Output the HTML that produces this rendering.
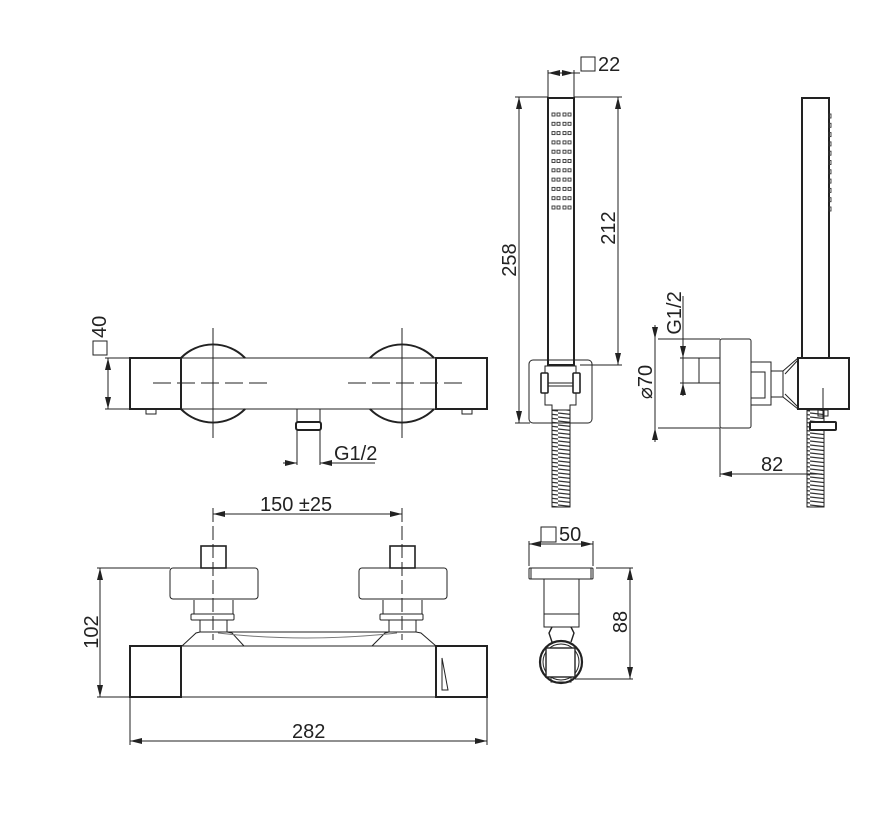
<!DOCTYPE html>
<html><head><meta charset="utf-8"><style>
html,body{margin:0;padding:0;background:#fff;}
svg{display:block;}
text{font-family:"Liberation Sans",sans-serif;fill:#222;}
</style></head><body>
<svg width="885" height="818" viewBox="0 0 885 818" xmlns="http://www.w3.org/2000/svg">
<defs>
<marker id="a" viewBox="0 0 12 6" refX="12" refY="3" markerWidth="12" markerHeight="6" markerUnits="userSpaceOnUse" orient="auto-start-reverse"><path d="M0,0 L12,3 L0,6 Z" fill="#222"/></marker>
<pattern id="hose" width="18" height="4" patternUnits="userSpaceOnUse"><rect width="18" height="4" fill="#fff"/><line x1="0" y1="1" x2="18" y2="3" stroke="#333" stroke-width="1.2"/></pattern>
</defs>
<g fill="none" stroke="#222" stroke-width="1">
<!-- VIEW 1 top -->
<path d="M181,358 A45,45 0 0 1 245,358 M181,409 A45,45 0 0 0 245,409" stroke-width="2.2"/>
<path d="M370,358 A45,45 0 0 1 434,358 M370,409 A45,45 0 0 0 434,409" stroke-width="2.2"/>
<path d="M183,358 A43,43 0 0 1 243,358 M183,409 A43,43 0 0 0 243,409" stroke="#fff" stroke-width="0.8"/>
<path d="M372,358 A43,43 0 0 1 432,358 M372,409 A43,43 0 0 0 432,409" stroke="#fff" stroke-width="0.8"/>
<rect x="130" y="358" width="357" height="51"/>
<rect x="130" y="358" width="51" height="51" stroke-width="2"/>
<rect x="436" y="358" width="51" height="51" stroke-width="2"/>
<line x1="213" y1="328" x2="213" y2="438"/><line x1="402" y1="328" x2="402" y2="438"/>
<path d="M153,383 H268 M348,383 H466" stroke-dasharray="18,6"/>
<rect x="146" y="409" width="10" height="5"/><rect x="462" y="409" width="10" height="5"/>
<path d="M297,409 V422 M320,409 V422"/>
<rect x="296" y="422" width="25" height="8" rx="2" stroke-width="2"/>
<path d="M297,430 V465 M320,430 V465"/>
<line x1="283" y1="463" x2="297" y2="463" marker-end="url(#a)"/>
<line x1="334" y1="463" x2="320" y2="463" marker-end="url(#a)"/>
<line x1="320" y1="463" x2="375" y2="463"/>
<path d="M105,358 H130 M105,409 H130"/>
<line x1="108" y1="358" x2="108" y2="409" marker-start="url(#a)" marker-end="url(#a)"/>
<rect x="93" y="341" width="14" height="14"/>

<!-- VIEW 2 front -->
<rect x="130" y="646" width="357" height="51"/>
<rect x="130" y="646" width="51" height="51" stroke-width="2"/>
<rect x="436" y="646" width="51" height="51" stroke-width="2"/>
<path d="M442,658 L448,690 L442,690 Z"/>
<g>
<rect x="201" y="546" width="25" height="22" stroke-width="1.6"/>
<rect x="170" y="568" width="88" height="31" rx="3"/>
<path d="M194,600 V614 M233,600 V614"/>
<rect x="191" y="614" width="43" height="6" rx="1"/>
<rect x="200" y="620" width="27" height="12"/>
<path d="M200,632 L196,633 L182,646 M227,632 L232,633 L244,646" />
</g>
<g transform="translate(189,0)">
<rect x="201" y="546" width="25" height="22" stroke-width="1.6"/>
<rect x="170" y="568" width="88" height="31" rx="3"/>
<path d="M194,600 V614 M233,600 V614"/>
<rect x="191" y="614" width="43" height="6" rx="1"/>
<rect x="200" y="620" width="27" height="12"/>
<path d="M200,632 L196,633 L183,646 M227,632 L232,633 L247,646"/>
</g>
<path d="M227,632 H390"/>
<path d="M218,633 Q305,643 397,633" stroke="#777"/>
<path d="M213,508 V640 M402,508 V640" stroke-dasharray="14,4"/>
<line x1="213" y1="514" x2="402" y2="514" marker-start="url(#a)" marker-end="url(#a)"/>
<path d="M97,568 H170 M97,697 H130"/>
<line x1="100" y1="568" x2="100" y2="697" marker-start="url(#a)" marker-end="url(#a)"/>
<path d="M130,697 V745 M487,697 V745"/>
<line x1="130" y1="741" x2="487" y2="741" marker-start="url(#a)" marker-end="url(#a)"/>

<!-- VIEW 3 hand shower front -->
<rect x="552" y="405" width="18" height="102" fill="url(#hose)"/>
<rect x="529" y="360" width="63" height="63" rx="4"/>
<rect x="548" y="98" width="26" height="267" stroke-width="2"/>
<path d="M545,366 H576 V405 H570 V410 H552 V405 H545 Z" fill="#fff"/>
<rect x="541" y="373" width="7" height="20" rx="1" fill="#fff" stroke-width="1.6"/>
<rect x="573" y="373" width="7" height="20" rx="1" fill="#fff" stroke-width="1.6"/>
<path d="M548,383 H573 M548,386 H573"/>
<line x1="548" y1="365" x2="574" y2="365" stroke-width="2"/>
<path d="M548,70 V97 M574,70 V97"/>
<line x1="548" y1="73" x2="574" y2="73" marker-start="url(#a)" marker-end="url(#a)"/>
<path d="M574,73 H580"/>
<rect x="581" y="57" width="14" height="14"/>
<path d="M515,97 H548 M574,97 H622 M580,365 H622 M515,423 H530"/>
<line x1="519" y1="97" x2="519" y2="423" marker-start="url(#a)" marker-end="url(#a)"/>
<line x1="618" y1="97" x2="618" y2="365" marker-start="url(#a)" marker-end="url(#a)"/>

<!-- VIEW 4 side -->
<rect x="807" y="410" width="17" height="97" fill="url(#hose)"/>
<rect x="802" y="98" width="27" height="260" stroke-width="2"/>
<rect x="699" y="358" width="21" height="25"/>
<rect x="720" y="339" width="31" height="89" rx="2"/>
<rect x="751" y="362" width="20" height="43"/>
<rect x="751" y="372" width="14" height="26"/>
<rect x="771" y="371" width="12" height="26"/>
<path d="M783,371 L798,358 M783,397 L798,409 M785,374 L798,360 M785,394 L798,407"/>
<rect x="798" y="358" width="51" height="51" stroke-width="2" fill="#fff"/>
<line x1="823" y1="388" x2="823" y2="418"/>
<rect x="818" y="410" width="10" height="6"/>
<rect x="810" y="422" width="26" height="8" rx="1" stroke-width="2" fill="#fff"/>
<path d="M658,339 H720 M658,428 H720"/>
<line x1="655" y1="325" x2="655" y2="339" marker-end="url(#a)"/>
<line x1="655" y1="442" x2="655" y2="428" marker-end="url(#a)"/>
<line x1="655" y1="339" x2="655" y2="428"/>
<path d="M680,358 H699 M680,383 H699"/>
<line x1="683" y1="345" x2="683" y2="358" marker-end="url(#a)"/>
<line x1="683" y1="396" x2="683" y2="383" marker-end="url(#a)"/>
<line x1="683" y1="358" x2="683" y2="383"/>
<line x1="683" y1="296" x2="683" y2="345"/>
<path d="M720,428 V477"/>
<line x1="822" y1="474" x2="720" y2="474" marker-end="url(#a)"/>

<!-- VIEW 5 bracket -->
<rect x="529" y="568" width="64" height="11" rx="1"/>
<path d="M531,568 V579 M591,568 V579"/>
<rect x="544" y="579" width="35" height="48"/>
<line x1="544" y1="614" x2="579" y2="614"/>
<path d="M552,627 L549,633 L552,642 M571,627 L574,633 L571,642" stroke-width="1.4"/>
<circle cx="561" cy="662" r="21" stroke-width="2.2"/>
<circle cx="561" cy="662" r="18" stroke-width="1"/>
<rect x="546" y="648" width="29" height="29" fill="#fff" stroke-width="1.4"/>
<path d="M551,677 v5 h20 v-5" />
<path d="M529,541 V566 M593,541 V566"/>
<line x1="529" y1="544" x2="593" y2="544" marker-start="url(#a)" marker-end="url(#a)"/>
<rect x="541" y="527" width="15" height="15"/>
<path d="M596,568 H633 M575,679 H633"/>
<line x1="630" y1="568" x2="630" y2="679" marker-start="url(#a)" marker-end="url(#a)"/>
</g>

<!-- dots on hand shower -->
<g fill="none" stroke="#333" stroke-width="0.9">
<g id="row"><rect x="552" y="113" width="3" height="3"/><rect x="557" y="113" width="3" height="3"/><rect x="563" y="113" width="3" height="3"/><rect x="568" y="113" width="3" height="3"/></g>
<use href="#row" y="9.3"/><use href="#row" y="18.6"/><use href="#row" y="27.9"/><use href="#row" y="37.2"/><use href="#row" y="46.5"/><use href="#row" y="55.8"/><use href="#row" y="65.1"/><use href="#row" y="74.4"/><use href="#row" y="83.7"/><use href="#row" y="93"/>
<g id="b"><rect x="829" y="114" width="2" height="4"/></g>
<use href="#b" y="9.3"/><use href="#b" y="18.6"/><use href="#b" y="27.9"/><use href="#b" y="37.2"/><use href="#b" y="46.5"/><use href="#b" y="55.8"/><use href="#b" y="65.1"/><use href="#b" y="74.4"/><use href="#b" y="83.7"/><use href="#b" y="93"/>
</g>

<!-- text -->
<g font-size="20">
<text x="334" y="460">G1/2</text>
<text transform="translate(106,338) rotate(-90)">40</text>
<text x="260" y="511">150 ±25</text>
<text text-anchor="middle" transform="translate(98,632) rotate(-90)">102</text>
<text x="292" y="738">282</text>
<text x="598" y="71">22</text>
<text text-anchor="middle" transform="translate(516,260) rotate(-90)">258</text>
<text text-anchor="middle" transform="translate(615,228) rotate(-90)">212</text>
<text text-anchor="middle" transform="translate(652,382) rotate(-90)">⌀70</text>
<text text-anchor="middle" transform="translate(681,313) rotate(-90)">G1/2</text>
<text x="761" y="471">82</text>
<text x="559" y="541">50</text>
<text text-anchor="middle" transform="translate(627,622) rotate(-90)">88</text>
</g>
</svg>
</body></html>
